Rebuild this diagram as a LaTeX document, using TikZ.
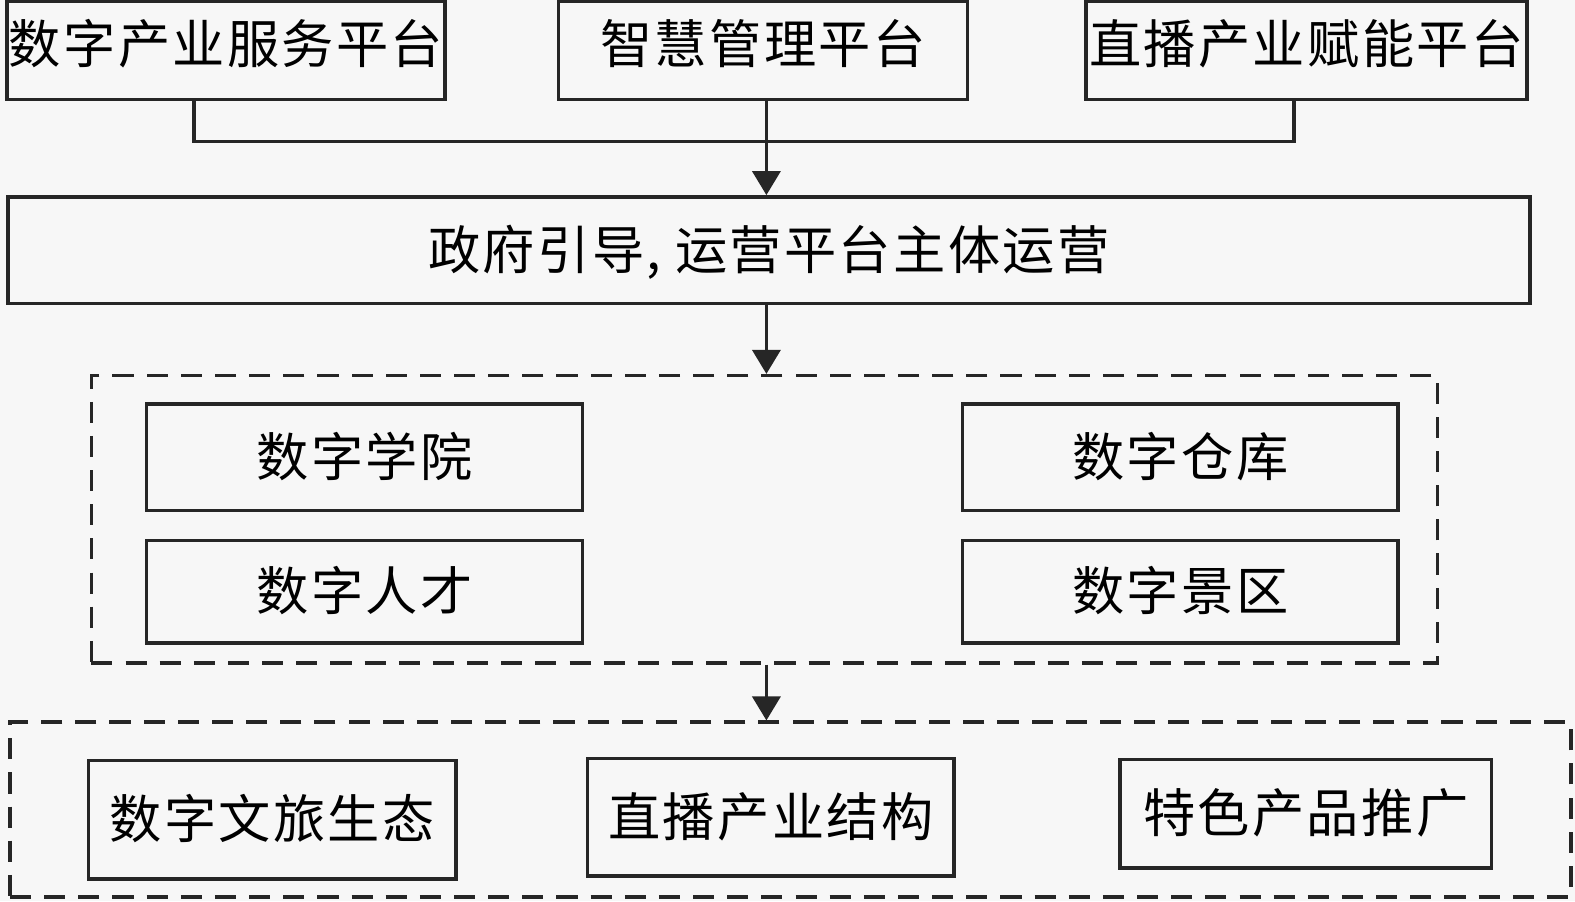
\documentclass[tikz,border=0pt]{standalone}
\usepackage{fontspec}
\newfontfamily\cjk{Noto Sans CJK SC}[LetterSpace=4.5]
\usetikzlibrary{arrows.meta}
\begin{document}
\begin{tikzpicture}[x=1bp,y=-1bp,
  box/.style={draw=black!85,line width=3.5bp,minimum width=#1,inner sep=0pt,
    font=\cjk\fontsize{52bp}{52bp}\selectfont,text height=45bp,text depth=7bp},
  topbox/.style={box=#1,text depth=19bp},
  dbox/.style={draw=black!85,line width=3.5bp,dash pattern=on 21bp off 13bp,inner sep=0pt},
  conn/.style={draw=black!85,line width=3.5bp},
  arr/.style={conn,-{Triangle[width=28bp,length=24bp]}}]
\fill[black!3] (0,0) rectangle (1568,897);
\useasboundingbox (0,0) rectangle (1568,897);
% top row
\node[topbox=436bp,minimum height=98bp] (t1) at (225,50) {数字产业服务平台};
\node[topbox=407bp,minimum height=98bp] (t2) at (759.5,50) {智慧管理平台};
\node[topbox=439bp,minimum height=98bp] (t3) at (1300.5,50) {直播产业赋能平台};
% government box
\node[box=1515bp,minimum height=106bp] (gov) at (765.5,249) {政府引导, 运营平台主体运营};
% dashed group 1
\node[dbox,minimum width=1340bp,minimum height=286bp] (d1) at (761,517) {};
\node[box=434bp,minimum height=106bp] (a1) at (363,455) {数字学院};
\node[box=434bp,minimum height=102bp] (a2) at (363,589) {数字人才};
\node[box=434bp,minimum height=106bp] (b1) at (1175,455) {数字仓库};
\node[box=434bp,minimum height=102bp] (b2) at (1175,589) {数字景区};
% dashed group 2
\node[dbox,minimum width=1554bp,minimum height=174bp] (d2) at (787,806) {};
\node[box=366bp,minimum height=118bp] (c1) at (271,816) {数字文旅生态};
\node[box=365bp,minimum height=117bp] (c2) at (767.5,813.5) {直播产业结构};
\node[box=370bp,minimum height=108bp] (c3) at (1300,810) {特色产品推广};
% connectors
\coordinate (mid) at (763,0);
\coordinate (lft) at (193,141);
\coordinate (rgt) at (1288,141);
\draw[conn] (t1.south -| lft) -- (lft) -- (rgt) -- (t3.south -| rgt);
\draw[arr] (t2.south -| mid) -- (gov.north -| mid);
\draw[arr] (gov.south -| mid) -- (d1.north -| mid);
\draw[arr] (d1.south -| mid) -- (d2.north -| mid);
\end{tikzpicture}
\end{document}
